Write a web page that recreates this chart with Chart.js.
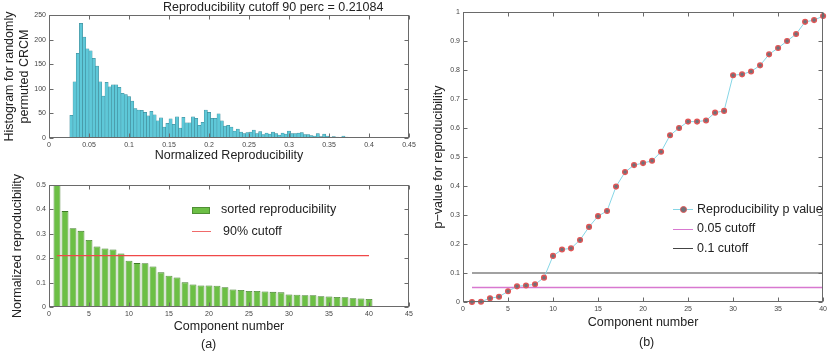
<!DOCTYPE html>
<html>
<head>
<meta charset="utf-8">
<script src="https://cdn.jsdelivr.net/npm/chart.js@4.4.1/dist/chart.umd.min.js"></script>
<style>
	body { margin: 0; background: #fff; }
	#wrap { position: relative; width: 830px; height: 351px; overflow: hidden; font-family: "Liberation Sans", Arial, Helvetica, sans-serif; color: #222; }
	canvas { position: absolute; }
	.txt { position: absolute; font-size: 12.5px; line-height: 15px; white-space: nowrap; }
	.sw { position: absolute; }
</style>
</head>
<body>
<div id="wrap">
	<canvas id="hist" width="420" height="170" style="left:0;top:0"></canvas>
	<canvas id="sorted" width="420" height="181" style="left:0;top:170px"></canvas>
	<canvas id="pval" width="410" height="351" style="left:420px;top:0"></canvas>

	<div class="txt" style="left:163px;top:0px">Reproducibility cutoff 90 perc = 0.21084</div>

	<div class="sw" style="left:192px;top:207px;width:18px;height:7px;background:#6cbf45;border:1px solid #4f8f34;box-sizing:border-box"></div>
	<div class="txt" style="left:221px;top:202px">sorted reproducibility</div>
	<div class="sw" style="left:192px;top:231px;width:19px;height:1px;background:#f06a6a"></div>
	<div class="txt" style="left:223px;top:224px">90% cutoff</div>
	<div class="txt" style="left:201px;top:337px">(a)</div>

	<div class="sw" style="left:673px;top:209px;width:20px;height:1px;background:#86d6e6"></div>
	<div class="sw" style="left:680px;top:206px;width:7px;height:7px;border-radius:50%;background:#707078;border:1.3px solid #e25555;box-sizing:border-box"></div>
	<div class="txt" style="left:697px;top:202px">Reproducibility p value</div>
	<div class="sw" style="left:673px;top:229px;width:20px;height:1px;background:#d878d0"></div>
	<div class="txt" style="left:697px;top:221px">0.05 cutoff</div>
	<div class="sw" style="left:673px;top:248px;width:20px;height:1px;background:#444"></div>
	<div class="txt" style="left:697px;top:241px">0.1 cutoff</div>
	<div class="txt" style="left:639px;top:335px">(b)</div>
</div>
<script>
// histogram of randomly permuted CRCM
const histBinCenters = [
	0.028, 0.032, 0.036, 0.040, 0.044, 0.048, 0.052, 0.056, 0.060, 0.064,
	0.068, 0.072, 0.076, 0.080, 0.084, 0.088, 0.092, 0.096, 0.100, 0.104,
	0.108, 0.112, 0.116, 0.120, 0.124, 0.128, 0.132, 0.136, 0.140, 0.144,
	0.148, 0.152, 0.156, 0.160, 0.164, 0.168, 0.172, 0.176, 0.180, 0.184,
	0.188, 0.192, 0.196, 0.200, 0.204, 0.208, 0.212, 0.216, 0.220, 0.224,
	0.228, 0.232, 0.236, 0.240, 0.244, 0.248, 0.252, 0.256, 0.260, 0.264,
	0.268, 0.272, 0.276, 0.280, 0.284, 0.288, 0.292, 0.296, 0.300, 0.304,
	0.308, 0.312, 0.316, 0.320, 0.324, 0.328, 0.332, 0.336, 0.340, 0.344,
	0.348, 0.352, 0.356, 0.360, 0.364, 0.368, 0.372, 0.376, 0.380, 0.384,
	0.388, 0.392, 0.396, 0.400, 0.404, 0.408, 0.412, 0.416, 0.420, 0.424,
]
const histCounts = [
	46, 114, 172, 233, 205, 181, 177, 162, 146, 114,
	85, 113, 104, 108, 108, 103, 91, 88, 84, 75,
	60, 57, 56, 52, 45, 54, 47, 35, 41, 22,
	30, 39, 28, 43, 20, 42, 31, 31, 43, 40,
	26, 32, 57, 52, 40, 40, 49, 35, 24, 26,
	22, 14, 18, 12, 9, 11, 12, 16, 9, 13,
	7, 10, 8, 12, 9, 6, 10, 8, 14, 9,
	9, 10, 11, 7, 7, 5, 4, 9, 3, 8,
	4, 2, 3, 2, 1, 4, 2, 1, 1, 0,
	1, 0, 1, 1, 0, 1, 0, 0, 1, 0,
]

// sorted reproducibility per component
const componentNumbers = [
	1, 2, 3, 4, 5, 6, 7, 8, 9, 10, 11, 12, 13, 14, 15, 16, 17, 18, 19, 20,
	21, 22, 23, 24, 25, 26, 27, 28, 29, 30, 31, 32, 33, 34, 35, 36, 37, 38, 39, 40,
]
const sortedReproducibility = [
	0.500, 0.393, 0.323, 0.312, 0.275, 0.248, 0.240, 0.236, 0.219, 0.190,
	0.180, 0.179, 0.166, 0.142, 0.128, 0.121, 0.101, 0.092, 0.088, 0.088,
	0.087, 0.081, 0.072, 0.070, 0.066, 0.066, 0.064, 0.062, 0.060, 0.051,
	0.050, 0.048, 0.048, 0.044, 0.043, 0.041, 0.040, 0.036, 0.035, 0.033,
]
const reproCutoff = 0.21084

// p-values
const pValues = [
	0.000, 0.001, 0.013, 0.018, 0.037, 0.054, 0.057, 0.061, 0.084, 0.159,
	0.181, 0.185, 0.214, 0.259, 0.296, 0.314, 0.398, 0.448, 0.472, 0.479,
	0.487, 0.518, 0.575, 0.600, 0.622, 0.622, 0.626, 0.653, 0.659, 0.782,
	0.785, 0.795, 0.816, 0.854, 0.876, 0.900, 0.924, 0.966, 0.972, 0.986,
]
const pCutoffLow = 0.05
const pCutoffHigh = 0.1
const cutoffSpan = [1, 40]

Chart.defaults.font.family = '"Liberation Sans", Arial, Helvetica, sans-serif'
Chart.defaults.color = '#444'
Chart.defaults.animation = false
Chart.defaults.plugins.legend.display = false
Chart.defaults.plugins.tooltip.enabled = false

const tickFont = { size: 7 }
const titleFont = { size: 12.5 }
const fmt = (v) => String(parseFloat(Number(v).toFixed(4)))

// matlab style box with inward ticks on all four sides
const boxTicks = {
	id: 'boxTicks',
	afterDatasetsDraw(chart) {
		const { ctx, chartArea: a, scales } = chart
		const L = Math.round(a.left) + 0.5
		const R = Math.round(a.right) - 0.5
		const T = Math.round(a.top) + 0.5
		const B = Math.round(a.bottom) - 0.5
		ctx.save()
		ctx.strokeStyle = '#6a6a6a'
		ctx.lineWidth = 1
		ctx.beginPath()
		scales.x.ticks.forEach((t) => {
			const px = Math.round(scales.x.getPixelForValue(t.value)) + 0.5
			ctx.moveTo(px, B); ctx.lineTo(px, B - 4)
			ctx.moveTo(px, T); ctx.lineTo(px, T + 4)
		})
		scales.y.ticks.forEach((t) => {
			const py = Math.round(scales.y.getPixelForValue(t.value)) + 0.5
			ctx.moveTo(L, py); ctx.lineTo(L + 4, py)
			ctx.moveTo(R, py); ctx.lineTo(R - 4, py)
		})
		ctx.stroke()
		ctx.strokeRect(L, T, R - L, B - T)
		ctx.restore()
	},
}

function frameScales(o) {
	return {
		x: {
			type: 'linear', position: 'bottom', min: o.xMin, max: o.xMax, offset: false,
			grid: { display: false, drawTicks: false }, border: { display: false },
			ticks: { stepSize: o.xStep, font: tickFont, padding: 3, maxRotation: 0, autoSkip: false, callback: fmt },
			title: { display: true, text: o.xTitle, font: titleFont, color: '#222', padding: { top: 0, bottom: o.xTitlePad } },
			afterFit: (s) => { s.height = o.bottom },
		},
		y: {
			type: 'linear', position: 'left', min: o.yMin, max: o.yMax,
			grid: { display: false, drawTicks: false }, border: { display: false },
			ticks: { stepSize: o.yStep, font: tickFont, padding: 3, callback: fmt },
			title: { display: true, text: o.yTitle, font: titleFont, color: '#222', padding: { top: o.yTitlePad, bottom: 0 } },
			afterFit: (s) => { s.width = o.left },
		},
		x2: {
			type: 'linear', position: 'top', grid: { display: false, drawTicks: false }, border: { display: false },
			ticks: { display: false }, afterFit: (s) => { s.height = o.top },
		},
		y2: {
			type: 'linear', position: 'right', grid: { display: false, drawTicks: false }, border: { display: false },
			ticks: { display: false }, afterFit: (s) => { s.width = o.right },
		},
	}
}

// (a) top: histogram
new Chart(document.getElementById('hist'), {
	type: 'bar',
	data: {
		datasets: [{
			data: histBinCenters.map((x, i) => ({ x: x, y: histCounts[i] })),
			backgroundColor: '#5ec8d8',
			borderColor: '#3a8391',
			borderWidth: 0.5,
			barPercentage: 1,
			categoryPercentage: 1,
		}],
	},
	options: {
		responsive: false,
		devicePixelRatio: 1,
		scales: frameScales({
			xMin: 0, xMax: 0.45, xStep: 0.05, yMin: 0, yMax: 250, yStep: 50,
			xTitle: 'Normalized Reproducibility', xTitlePad: 6.5,
			yTitle: ['Histogram for randomly', 'permuted CRCM'], yTitlePad: 2,
			left: 49, right: 11, top: 15, bottom: 32,
		}),
	},
	plugins: [boxTicks],
})

// (a) bottom: sorted reproducibility
new Chart(document.getElementById('sorted'), {
	type: 'bar',
	data: {
		datasets: [
			{
				type: 'line',
				data: cutoffSpan.map((x) => ({ x: x, y: reproCutoff })),
				borderColor: '#f04848',
				borderWidth: 1.3,
				pointRadius: 0,
				order: 0,
			},
			{
				data: componentNumbers.map((x, i) => ({ x: x, y: sortedReproducibility[i] })),
				backgroundColor: '#6cbf45',
				borderColor: '#3e7a28',
				borderWidth: 0.8,
				barPercentage: 0.86,
				categoryPercentage: 1,
				order: 1,
			},
		],
	},
	options: {
		responsive: false,
		devicePixelRatio: 1,
		scales: frameScales({
			xMin: 0, xMax: 45, xStep: 5, yMin: 0, yMax: 0.5, yStep: 0.1,
			xTitle: 'Component number', xTitlePad: 16.5,
			yTitle: 'Normalized reproducibility', yTitlePad: 10,
			left: 49, right: 11, top: 15, bottom: 44,
		}),
	},
	plugins: [boxTicks],
})

// (b): p-values
new Chart(document.getElementById('pval'), {
	type: 'line',
	data: {
		datasets: [
			{
				data: componentNumbers.map((x, i) => ({ x: x, y: pValues[i] })),
				borderColor: '#86d6e6',
				borderWidth: 1,
				pointRadius: 2.4,
				pointBackgroundColor: '#707078',
				pointBorderColor: '#e25555',
				pointBorderWidth: 1.3,
				clip: false,
				order: 0,
			},
			{
				data: cutoffSpan.map((x) => ({ x: x, y: pCutoffLow })),
				borderColor: '#d878d0',
				borderWidth: 1.3,
				pointRadius: 0,
				order: 1,
			},
			{
				data: cutoffSpan.map((x) => ({ x: x, y: pCutoffHigh })),
				borderColor: '#444',
				borderWidth: 1.2,
				pointRadius: 0,
				order: 2,
			},
		],
	},
	options: {
		responsive: false,
		devicePixelRatio: 1,
		scales: frameScales({
			xMin: 0, xMax: 40, xStep: 5, yMin: 0, yMax: 1, yStep: 0.1,
			xTitle: 'Component number', xTitlePad: 20.5,
			yTitle: 'p\u2212value for reproducibility', yTitlePad: 11.5,
			left: 43, right: 4, top: 12, bottom: 49,
		}),
	},
	plugins: [boxTicks],
})
</script>
</body>
</html>
